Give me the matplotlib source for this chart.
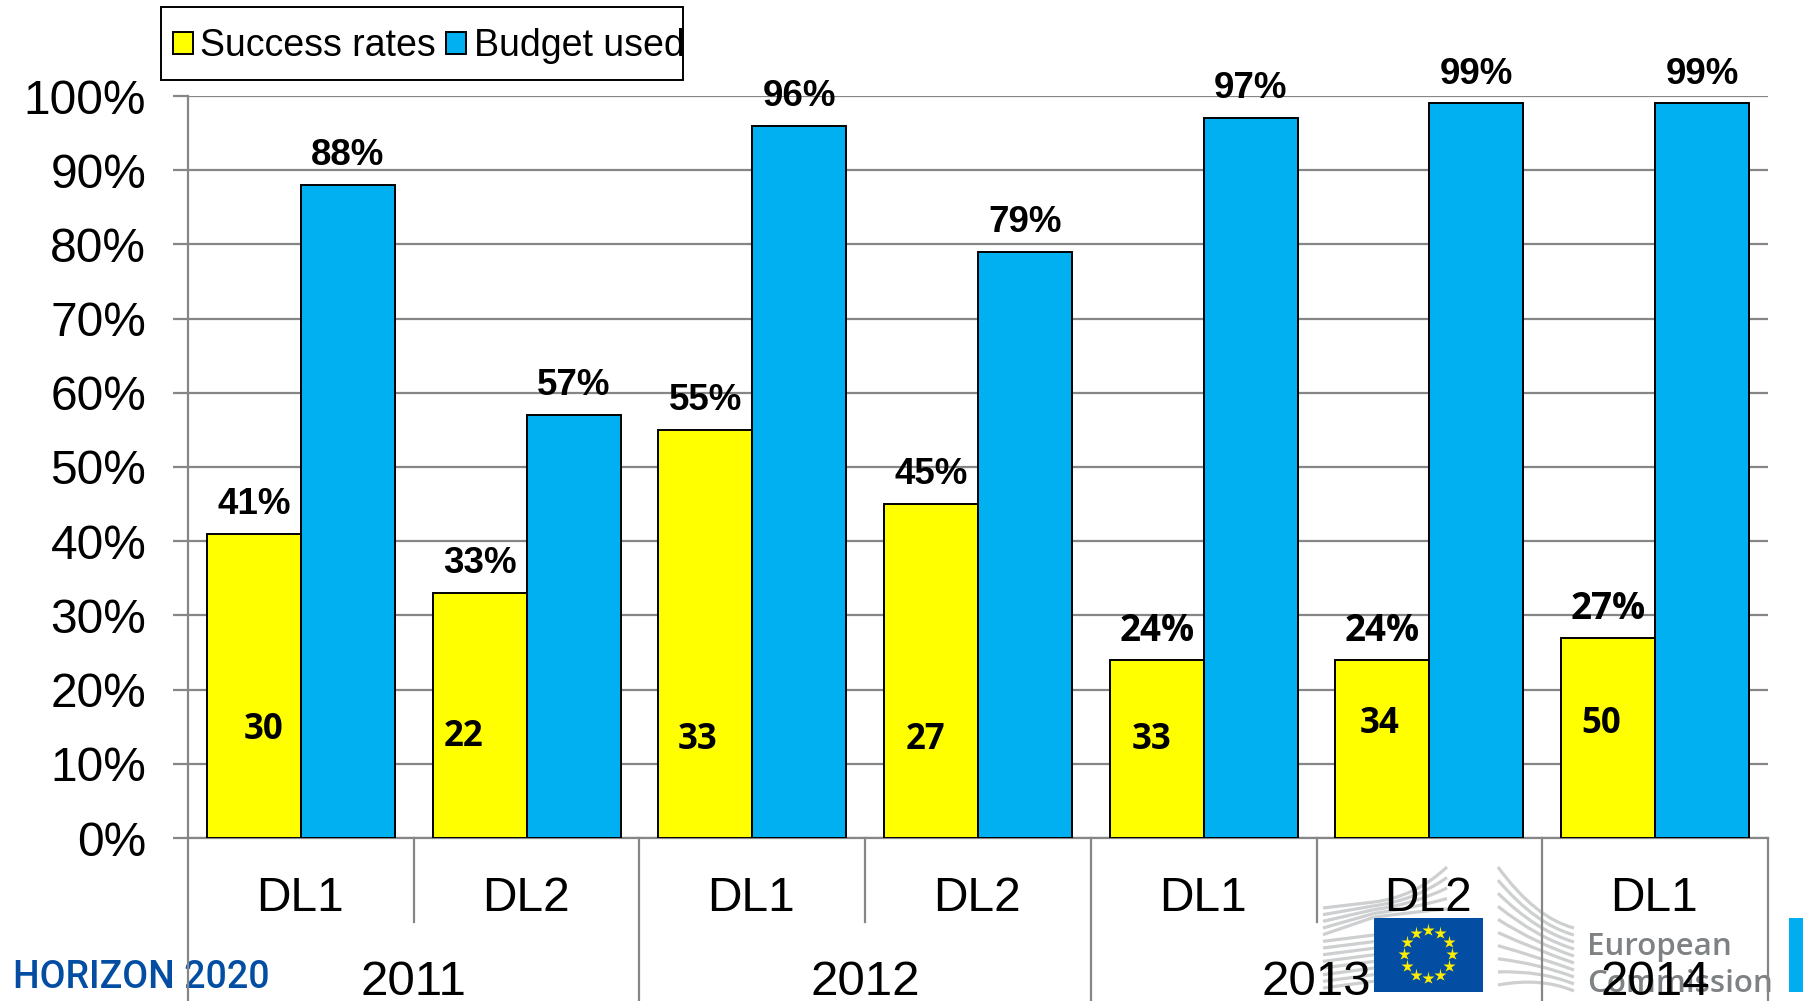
import matplotlib
matplotlib.use("Agg")
import matplotlib.pyplot as plt
from matplotlib.patches import Rectangle
from matplotlib.path import Path
from matplotlib.patches import PathPatch
import numpy as np

W, H = 1803, 1001
dl_labels = ["DL1", "DL2", "DL1", "DL2", "DL1", "DL2", "DL1"]
years = ["2011", "2012", "2013", "2014"]
year_spans = [2, 2, 2, 1]
success = [41, 33, 55, 45, 24, 24, 27]
budget = [88, 57, 96, 79, 97, 99, 99]
counts = [30, 22, 33, 27, 33, 34, 50]
count_x = [0.336, 1.223, 2.257, 3.266, 4.27, 5.28, 6.26]
count_y = [14.55, 13.65, 13.25, 13.25, 13.25, 15.35, 15.35]
yticks = list(range(0, 101, 10))

YEL, BLU, GRID = "#FFFF00", "#00B0F0", "#868686"
ARIAL = "Liberation Sans"

fig = plt.figure(figsize=(W / 100, H / 100), dpi=100, facecolor="white")

# logo layer in pixel coordinates
lg = fig.add_axes([0, 0, 1, 1], zorder=0)
lg.set_xlim(0, W); lg.set_ylim(H, 0); lg.axis("off")
STR = "#CDCFD0"


def curve(pts, lw=2.3):
    p = np.array(pts, float)
    codes = [Path.MOVETO] + [Path.CURVE3] * (len(p) - 1)
    lg.add_patch(PathPatch(Path(p, codes), fc="none", ec=STR, lw=lw, capstyle="butt"))


# left wing
for i in range(13):
    yl = 908 + i * 6.67
    yf = 902 + i * 3.8 if i < 5 else 902 + i * 6.6
    lg.plot([1323, 1374], [yl, min(yf, 992)], color=STR, lw=2.3, solid_capstyle="butt")
for i in range(5):
    yf = 902 + i * 3.8
    ye = 867 + i * 10.5
    curve([(1374, yf), (1415 - i, yf - 5), (1447, ye)])
# right wing
for i in range(10):
    t = i / 9
    yl = 867 + t * 118
    ybend = 915 + t * 65
    yr = 928 + t * 63
    curve([(1498, yl), (1535 + 6 * t, ybend + 3 - 6 * t), (1574, yr)])
lg.add_patch(Rectangle((1374, 918), 109, 74, fc="#034EA2", ec="none"))
ang = np.deg2rad(np.arange(0, 360, 30))
lg.plot(1428 + 24 * np.cos(ang), 954 + 24 * np.sin(ang), ls="none", marker="*", ms=9.5,
        mfc="#FFED00", mec="none")
lg.add_patch(Rectangle((1789, 918), 14, 74, fc="#00AEEF", ec="none"))
lg.text(1587, 946.5, "European", fontsize=22.5, fontweight="semibold", family="Open Sans", color="#7F8284",
        va="center", ha="left")
lg.text(1587, 984.5, "Commission", fontsize=22.5, fontweight="semibold", family="Open Sans", color="#7F8284",
        va="center", ha="left")
lg.text(13, 977, "HORIZON 2020", fontsize=27, fontweight="medium", family="Roboto", color="#034EA2",
        va="center", ha="left")
# legend frame
lg.add_patch(Rectangle((161, 7), 522, 73, fc="white", ec="black", lw=1.4))

# main chart
L, R, T, B = 188, 1768, 96, 838
ax = fig.add_axes([L / W, 1 - B / H, (R - L) / W, (B - T) / H], zorder=2)
ax.patch.set_alpha(0)
x = np.arange(len(success)) + 0.5
w = 1 / 2.4
bs = ax.bar(x - w / 2, success, w, color=YEL, edgecolor="black", lw=1.4, label="Success rates", zorder=3)
bb = ax.bar(x + w / 2, budget, w, color=BLU, edgecolor="black", lw=1.4, label="Budget used", zorder=3)
ax.set_xlim(0, len(success)); ax.set_ylim(0, 100)
ax.set_yticks(yticks)
ax.set_yticklabels([f"{v}%" for v in yticks], fontsize=34.5, family=ARIAL)
ax.tick_params(axis="y", length=10.5, width=1.6, color=GRID, pad=19.5)
ax.tick_params(axis="x", length=0, labelbottom=False)
ax.grid(axis="y", color=GRID, lw=1.6, zorder=0)
ax.set_axisbelow(True)
for s in ["top", "right"]:
    ax.spines[s].set_visible(False)
for s in ["left", "bottom"]:
    ax.spines[s].set_color(GRID); ax.spines[s].set_linewidth(1.6)

for i, (a, b) in enumerate(zip(success, budget)):
    fam = "Open Sans" if i >= 4 else ARIAL
    fs = 26.5
    ax.annotate(f"{a}%", (x[i] - w / 2, a), xytext=(0, 7 if i >= 4 else 8.5), textcoords="offset points",
                ha="center", va="bottom", fontsize=fs, fontweight="bold", family=fam, zorder=5)
    ax.annotate(f"{b}%", (x[i] + w / 2, b), xytext=(0, 8.5), textcoords="offset points", ha="center",
                va="bottom", fontsize=26.5, fontweight="bold", family=ARIAL, zorder=5)
for cx, cy, c in zip(count_x, count_y, counts):
    ax.text(cx, cy, str(c), ha="center", va="center", fontsize=25, fontweight="bold", family="Open Sans",
            zorder=5)

# multi-level category axis
tr = ax.get_xaxis_transform()
y_inner = (B - 922) / (B - T)
y_full = (B - 1001) / (B - T)
for i, lab in enumerate(dl_labels):
    ax.text(i + 0.5 - 0.005, (B - 898.5) / (B - T), lab, transform=tr, ha="center", va="center",
            fontsize=34.5, family=ARIAL, clip_on=False)
pos = 0
edges = [0]
for yr, sp in zip(years, year_spans):
    ax.text(pos + sp / 2, (B - 995) / (B - T), yr, transform=tr, ha="center", va="baseline",
            fontsize=35.5, family=ARIAL, clip_on=False)
    pos += sp
    edges.append(pos)
for i in range(len(success) + 1):
    yb = y_full if i in edges else y_inner
    ax.plot([i, i], [0, yb], transform=tr, color=GRID, lw=1.6, clip_on=False, zorder=1)

# legend
leg = ax.legend(handles=[bs, bb], loc="center left", bbox_to_anchor=(173 / W, 1 - 46 / H),
                bbox_transform=fig.transFigure, ncol=2, frameon=False, borderaxespad=0,
                prop={"family": ARIAL, "size": 27},
                handlelength=0.53, handleheight=0.53, handletextpad=0.2, columnspacing=0.27,
                borderpad=0)

fig.savefig("out.png", dpi=100)
